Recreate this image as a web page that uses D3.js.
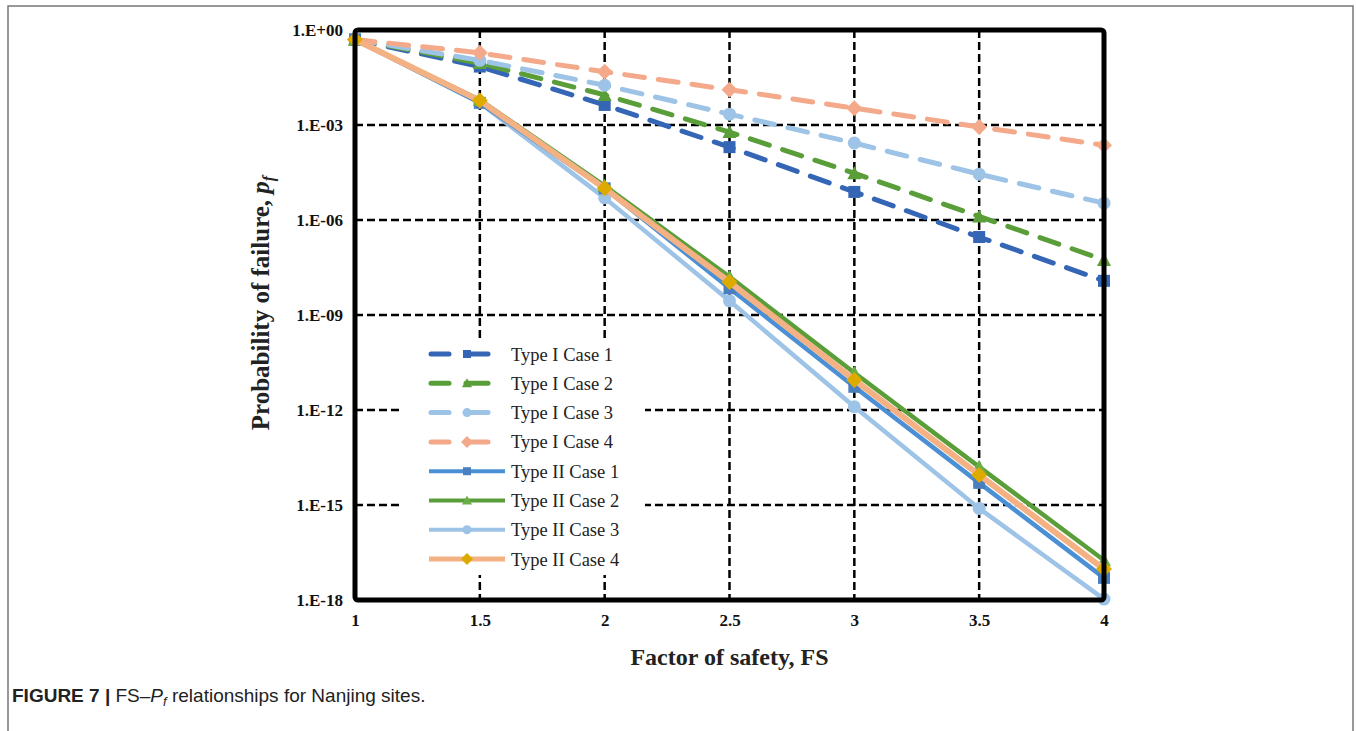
<!DOCTYPE html>
<html><head><meta charset="utf-8">
<script src="https://cdn.jsdelivr.net/npm/d3@7"></script>
<style>body{margin:0;background:#fff}svg{display:block}</style>
</head><body>
<svg id="c" width="1356" height="731"></svg>
<script>
const fsValues = [1, 1.5, 2, 2.5, 3, 3.5, 4];
const xTicks = [1, 1.5, 2, 2.5, 3, 3.5, 4];
const yTickExps = [0, -3, -6, -9, -12, -15, -18];
const yTickLabels = ["1.E+00","1.E-03","1.E-06","1.E-09","1.E-12","1.E-15","1.E-18"];

const typeICase1 = [0.5, 0.07, 4.3e-3, 2.0e-4, 7.7e-6, 2.9e-7, 1.2e-8];
const typeICase2 = [0.5, 0.09, 8.9e-3, 6.0e-4, 3.0e-5, 1.3e-6, 5.5e-8];
const typeICase3 = [0.5, 0.11, 1.8e-2, 2.2e-3, 2.7e-4, 2.8e-5, 3.4e-6];
const typeICase4 = [0.5, 0.19, 4.8e-2, 1.3e-2, 3.4e-3, 8.7e-4, 2.3e-4];
const typeIICase1 = [0.5, 5.0e-3, 1.0e-5, 7.0e-9, 5.4e-12, 5.0e-15, 5.0e-18];
const typeIICase2 = [0.5, 6.2e-3, 1.2e-5, 1.6e-8, 1.5e-11, 1.6e-14, 1.8e-17];
const typeIICase3 = [0.5, 5.0e-3, 5.0e-6, 2.8e-9, 1.26e-12, 7.8e-16, 1.07e-18];
const typeIICase4 = [0.5, 5.9e-3, 1.0e-5, 1.1e-8, 8.9e-12, 8.9e-15, 9.5e-18];

const seriesNames = ["Type I Case 1","Type I Case 2","Type I Case 3","Type I Case 4",
  "Type II Case 1","Type II Case 2","Type II Case 3","Type II Case 4"];

const series = [
  {name:seriesNames[0], v:typeICase1, color:"#3566b5", mcolor:"#3566b5", dash:true, marker:"square"},
  {name:seriesNames[1], v:typeICase2, color:"#5a9e3a", mcolor:"#5a9e3a", dash:true, marker:"triangle"},
  {name:seriesNames[2], v:typeICase3, color:"#9dc3e6", mcolor:"#9dc3e6", dash:true, marker:"circle"},
  {name:seriesNames[3], v:typeICase4, color:"#f4a98a", mcolor:"#f4a98a", dash:true, marker:"diamond"},
  {name:seriesNames[4], v:typeIICase1, color:"#4b8fd4", mcolor:"#4a7fbf", dash:false, marker:"square"},
  {name:seriesNames[5], v:typeIICase2, color:"#5a9e3a", mcolor:"#6aae45", dash:false, marker:"triangle"},
  {name:seriesNames[6], v:typeIICase3, color:"#9dc3e6", mcolor:"#9dc3e6", dash:false, marker:"circle"},
  {name:seriesNames[7], v:typeIICase4, color:"#f4b183", mcolor:"#ddaa00", dash:false, marker:"diamond"}
];

const svg = d3.select("#c");
// outer frame
svg.append("rect").attr("x",8).attr("y",6).attr("width",1345).attr("height",740)
  .attr("fill","none").attr("stroke","#777").attr("stroke-width",1.5);

const L=355, R=1104, T=30, B=600;
const x = d3.scaleLinear().domain([1,4]).range([L,R]);
const y = d3.scaleLog().domain([1e-18,1]).range([B,T]);

const serif = "'Liberation Serif','Times New Roman',serif";

// gridlines
const grid = svg.append("g");
xTicks.slice(1,-1).forEach(t=>{
  grid.append("line").attr("x1",x(t)).attr("x2",x(t)).attr("y1",T).attr("y2",B)
   .attr("stroke","#000").attr("stroke-width",2.5).attr("stroke-dasharray","8,4");
});
yTickExps.slice(1,-1).forEach(e=>{
  grid.append("line").attr("x1",L).attr("x2",R).attr("y1",y(Math.pow(10,e))).attr("y2",y(Math.pow(10,e)))
   .attr("stroke","#000").attr("stroke-width",2.5).attr("stroke-dasharray","8,4");
});

// axes labels via d3 axes
const xAxis = d3.axisBottom(x).tickValues(xTicks).tickSize(0).tickPadding(14).tickFormat(d=>String(d));
const gx = svg.append("g").attr("transform",`translate(0,${B})`).call(xAxis);
gx.select(".domain").remove();
gx.selectAll("text").attr("font-family",serif).attr("font-weight","bold").attr("font-size",17).attr("fill","#111");

const yAxis = d3.axisLeft(y).tickValues(yTickExps.map(e=>Math.pow(10,e))).tickSize(0).tickPadding(12)
  .tickFormat((d,i)=>yTickLabels[i]);
const gy = svg.append("g").attr("transform",`translate(${L},0)`).call(yAxis);
gy.select(".domain").remove();
gy.selectAll("text").attr("font-family",serif).attr("font-weight","bold").attr("font-size",17).attr("fill","#111");

// marker function
function drawMarker(g, type, cx, cy, color, s){
  if(type==="square") g.append("rect").attr("x",cx-s/2).attr("y",cy-s/2).attr("width",s).attr("height",s).attr("fill",color);
  else if(type==="circle") g.append("circle").attr("cx",cx).attr("cy",cy).attr("r",s/2+0.5).attr("fill",color);
  else if(type==="triangle") g.append("path").attr("d",`M${cx},${cy-s/2-1}L${cx+s/2+1},${cy+s/2}L${cx-s/2-1},${cy+s/2}Z`).attr("fill",color);
  else if(type==="diamond") g.append("path").attr("d",`M${cx},${cy-s/2-2}L${cx+s/2+2},${cy}L${cx},${cy+s/2+2}L${cx-s/2-2},${cy}Z`).attr("fill",color);
}

const line = d3.line().x((d,i)=>x(fsValues[i])).y(d=>y(d));
const plot = svg.append("g");
const order = [0,1,2,3,6,4,5,7];
order.forEach(k=>{
  const s = series[k];
  plot.append("path").datum(s.v).attr("d",line).attr("fill","none")
    .attr("stroke",s.color).attr("stroke-width",s.dash?5:(k===7?6:4.5))
    .attr("stroke-dasharray",s.dash?"20,14":null).attr("stroke-linecap",s.dash?"round":"butt")
    .attr("stroke-linejoin","round");
  s.v.forEach((v,i)=>drawMarker(plot, s.marker, x(fsValues[i]), y(v), s.mcolor, 12));
});

// legend
const leg = svg.append("g");
leg.append("rect").attr("x",400).attr("y",340).attr("width",245).attr("height",235).attr("fill","#fff");
series.forEach((s,i)=>{
  const ly = 354 + i*29.3;
  if(s.dash){
    leg.append("line").attr("x1",431).attr("x2",449).attr("y1",ly).attr("y2",ly)
      .attr("stroke",s.color).attr("stroke-width",5).attr("stroke-linecap","round");
    leg.append("line").attr("x1",466).attr("x2",488).attr("y1",ly).attr("y2",ly)
      .attr("stroke",s.color).attr("stroke-width",5).attr("stroke-linecap","round");
  } else {
    leg.append("line").attr("x1",429).attr("x2",505).attr("y1",ly).attr("y2",ly)
      .attr("stroke",s.color).attr("stroke-width",i===7?5:4);
  }
  drawMarker(leg, s.marker, 467, ly, s.mcolor, 8);
  leg.append("text").attr("x",511).attr("y",ly+6.5).text(s.name)
    .attr("font-family",serif).attr("font-size",18.5).attr("fill","#222");
});

// plot border
svg.append("rect").attr("x",L).attr("y",T).attr("width",R-L).attr("height",B-T)
  .attr("fill","none").attr("stroke","#000").attr("stroke-width",5).attr("rx",3);

// axis titles
svg.append("text").attr("x",(L+R)/2).attr("y",665).attr("text-anchor","middle")
  .attr("font-family",serif).attr("font-weight","bold").attr("font-size",24).attr("fill","#222")
  .text("Factor of safety, FS");
const yt = svg.append("text").attr("transform",`translate(269,${(T+B)/2 - 12}) rotate(-90)`).attr("text-anchor","middle")
  .attr("font-family",serif).attr("font-weight","bold").attr("font-size",25).attr("fill","#222");
yt.append("tspan").text("Probability of failure, ");
yt.append("tspan").attr("font-style","italic").text("p");
yt.append("tspan").attr("font-style","italic").attr("font-size",16).attr("dy",5).text("f");

// caption
const cap = svg.append("text").attr("x",12).attr("y",702)
  .attr("font-family","'Liberation Sans',Arial,sans-serif").attr("font-size",19).attr("fill","#222");
cap.append("tspan").attr("font-weight","bold").text("FIGURE 7 | ");
cap.append("tspan").text("FS\u2013");
cap.append("tspan").attr("font-style","italic").text("P");
cap.append("tspan").attr("font-style","italic").attr("font-size",13).attr("dy",4).text("f");
cap.append("tspan").attr("dy",-4).text(" relationships for Nanjing sites.");
</script>
</body></html>
